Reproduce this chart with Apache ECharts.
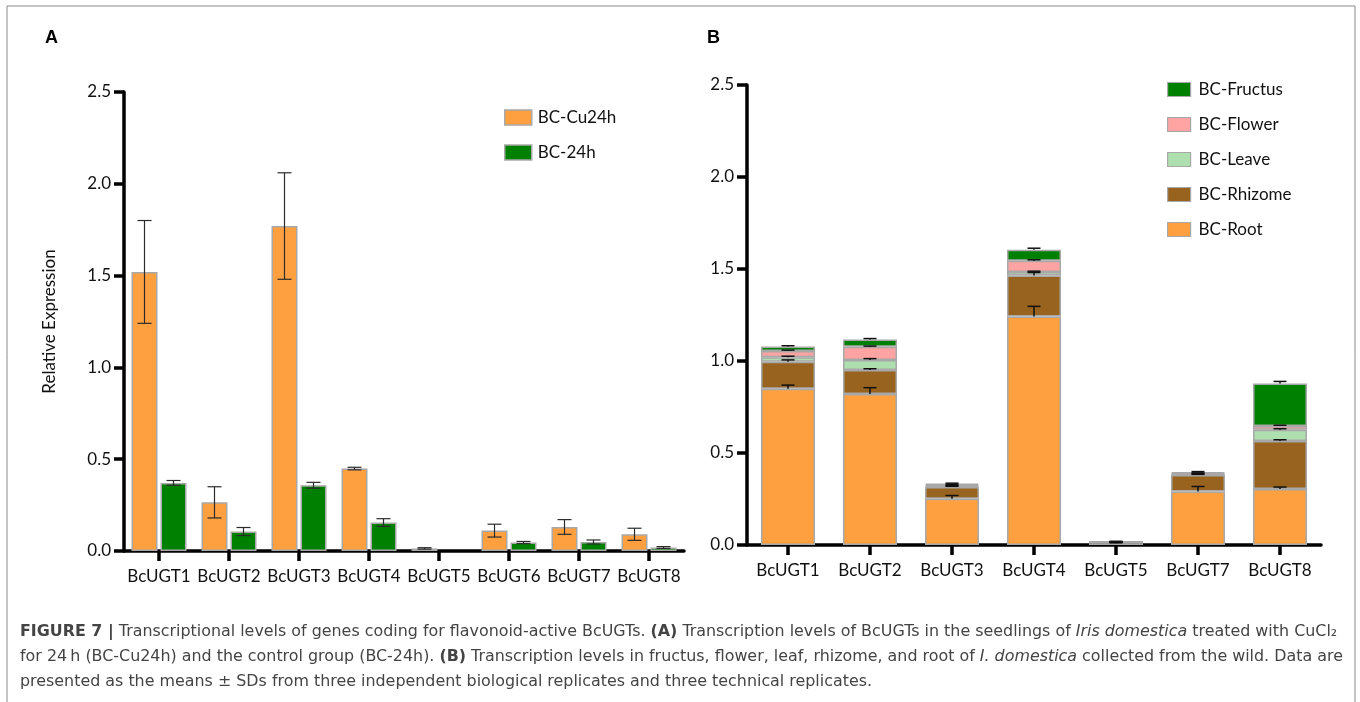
<!DOCTYPE html>
<html>
<head>
<meta charset="utf-8">
<title>Figure 7 – BcUGT transcription levels</title>
<script src="https://cdn.jsdelivr.net/npm/echarts@6/dist/echarts.min.js"></script>
<style>
  html, body { margin: 0; padding: 0; background: #ffffff; }
  #chart { width: 1360px; height: 702px; }
</style>
</head>
<body>
<div id="chart"></div>
<script>
// ---------- Panel A: CuCl2-treated seedlings vs control ----------
const genesA = ['BcUGT1', 'BcUGT2', 'BcUGT3', 'BcUGT4', 'BcUGT5', 'BcUGT6', 'BcUGT7', 'BcUGT8'];
const cu24h = [1.52, 0.265, 1.77, 0.449, 0.014, 0.111, 0.131, 0.091];
const cu24hSd = [0.28, 0.085, 0.29, 0.007, 0.004, 0.035, 0.04, 0.033];
const ck24h = [0.371, 0.106, 0.358, 0.155, 0.0, 0.046, 0.049, 0.019];
const ck24hSd = [0.013, 0.022, 0.016, 0.021, 0.0, 0.006, 0.011, 0.005];

// ---------- Panel B: tissues of wild plants (stacked) ----------
const genesB = ['BcUGT1', 'BcUGT2', 'BcUGT3', 'BcUGT4', 'BcUGT5', 'BcUGT7', 'BcUGT8'];
const root = [0.849, 0.82, 0.251, 1.242, 0.01, 0.291, 0.305];
const rootSd = [0.02, 0.035, 0.018, 0.055, 0.002, 0.027, 0.01];
const rhizome = [0.147, 0.131, 0.064, 0.223, 0.004, 0.089, 0.26];
const rhizomeSd = [0.01, 0.007, 0.004, 0.016, 0.001, 0.004, 0.007];
const leave = [0.025, 0.055, 0.006, 0.019, 0.002, 0.005, 0.062];
const leaveSd = [0.005, 0.007, 0.002, 0.004, 0.001, 0.002, 0.005];
const flower = [0.034, 0.071, 0.005, 0.061, 0.001, 0.005, 0.02];
const flowerSd = [0.004, 0.004, 0.002, 0.005, 0.001, 0.002, 0.004];
const fructus = [0.024, 0.04, 0.007, 0.059, 0.002, 0.006, 0.231];
const fructusSd = [0.004, 0.005, 0.003, 0.009, 0.001, 0.003, 0.011];

const yTicks = [0, 0.5, 1.0, 1.5, 2.0, 2.5];

const COLORS = {
  orange: '#FFA040',
  green: '#008000',
  brown: '#97631F',
  leaf: '#AEDFAE',
  pink: '#FFA3A3'
};
const BORDER = '#A8A8A8';
const AXIS = '#000000';
const LABEL_FONT = 'Lato, "Open Sans", sans-serif';

const chart = echarts.init(document.getElementById('chart'), null, { renderer: 'canvas' });

// Layout of the grouped bars in panel A
const BAR_W_A = 26;
const BAR_GAP_A = 3;

// A zero mean leaves no visible bar
const asBar = arr => arr.map(v => (v > 0 ? v : '-'));

function axisCommon() {
  return {
    axisLine: { show: true, lineStyle: { color: AXIS, width: 3.5 } },
    axisTick: { show: true, inside: false, length: 10, lineStyle: { color: AXIS, width: 3.5 } },
    splitLine: { show: false }
  };
}

function valueAxis(gridIndex, name) {
  return Object.assign(axisCommon(), {
    type: 'value',
    gridIndex: gridIndex,
    min: yTicks[0],
    max: yTicks[yTicks.length - 1],
    interval: 0.5,
    name: name || '',
    nameLocation: 'middle',
    nameGap: 66,
    nameRotate: 90,
    nameTextStyle: { fontFamily: LABEL_FONT, fontSize: 17, color: '#111' },
    axisLabel: {
      margin: 13,
      fontFamily: LABEL_FONT,
      fontSize: 17,
      color: '#111',
      formatter: v => v.toFixed(1)
    }
  });
}

function categoryAxis(gridIndex, cats) {
  const ax = Object.assign(axisCommon(), {
    type: 'category',
    gridIndex: gridIndex,
    data: cats,
    boundaryGap: true,
    axisLabel: {
      margin: 17,
      interval: 0,
      fontFamily: LABEL_FONT,
      fontSize: 17,
      color: '#111'
    }
  });
  ax.axisTick.alignWithLabel = true;
  ax.axisTick.interval = 0;
  return ax;
}

// Two-sided error bars for grouped bars (panel A)
function groupedErrorSeries(name, values, sds, offsetSign) {
  return {
    type: 'custom',
    name: name + ' SD',
    xAxisIndex: 0,
    yAxisIndex: 0,
    silent: true,
    z: 10,
    clip: false,
    data: values.map((v, i) => [i, v, sds[i]]),
    renderItem: function (params, api) {
      const i = api.value(0);
      const v = api.value(1);
      const sd = api.value(2);
      if (!(sd > 0)) return null;
      const dx = offsetSign * (BAR_W_A + BAR_GAP_A) / 2;
      const hi = api.coord([i, v + sd]);
      const lo = api.coord([i, v - sd]);
      const x = hi[0] + dx;
      const cap = 7;
      const st = { stroke: '#2b2b2b', lineWidth: 1.2 };
      return {
        type: 'group',
        children: [
          { type: 'line', shape: { x1: x, y1: hi[1], x2: x, y2: lo[1] }, style: st },
          { type: 'line', shape: { x1: x - cap, y1: hi[1], x2: x + cap, y2: hi[1] }, style: st },
          { type: 'line', shape: { x1: x - cap, y1: lo[1], x2: x + cap, y2: lo[1] }, style: st }
        ]
      };
    }
  };
}

// Upward error bars at the top of each stacked segment (panel B)
function stackedErrorSeries(name, tops, sds) {
  return {
    type: 'custom',
    name: name + ' SD',
    xAxisIndex: 1,
    yAxisIndex: 1,
    silent: true,
    z: 10,
    clip: false,
    data: tops.map((t, i) => [i, t, sds[i]]),
    renderItem: function (params, api) {
      const i = api.value(0);
      const t = api.value(1);
      const sd = api.value(2);
      const base = api.coord([i, t]);
      const hi = api.coord([i, t + sd]);
      const x = base[0];
      const cap = 6.5;
      const st = { stroke: '#111', lineWidth: 1.5 };
      return {
        type: 'group',
        children: [
          { type: 'line', shape: { x1: x, y1: base[1], x2: x, y2: hi[1] }, style: st },
          { type: 'line', shape: { x1: x - cap, y1: hi[1], x2: x + cap, y2: hi[1] }, style: st }
        ]
      };
    }
  };
}

// Cumulative tops of the stacked segments
function cumulative(layers) {
  const out = [];
  let acc = genesB.map(() => 0);
  layers.forEach(layer => {
    acc = acc.map((a, i) => a + layer[i]);
    out.push(acc.slice());
  });
  return out;
}
const stackLayers = [root, rhizome, leave, flower, fructus];
const stackSds = [rootSd, rhizomeSd, leaveSd, flowerSd, fructusSd];
const stackNames = ['BC-Root', 'BC-Rhizome', 'BC-Leave', 'BC-Flower', 'BC-Fructus'];
const stackColors = [COLORS.orange, COLORS.brown, COLORS.leaf, COLORS.pink, COLORS.green];
const stackTops = cumulative(stackLayers);

const stackedBars = stackLayers.map((layer, k) => ({
  type: 'bar',
  name: stackNames[k],
  xAxisIndex: 1,
  yAxisIndex: 1,
  stack: 'tissue',
  barWidth: 54,
  data: layer,
  itemStyle: { color: stackColors[k], borderColor: BORDER, borderWidth: 1.5 },
  emphasis: { disabled: true }
}));
const stackedErrors = stackLayers.map((layer, k) =>
  stackedErrorSeries(stackNames[k], stackTops[k], stackSds[k]));

const captionColor = '#444444';
const captionFont = '"DejaVu Sans", "Liberation Sans", sans-serif';
const captionSize = 15.9;
const captionRich = {
  b: { fontWeight: 'bold', fontFamily: captionFont, fontSize: captionSize, color: '#222' },
  i: { fontStyle: 'italic', fontFamily: captionFont, fontSize: captionSize, color: captionColor }
};
function captionLine(text, y) {
  return {
    type: 'text',
    left: 20,
    top: y,
    silent: true,
    style: {
      text: text,
      fontFamily: captionFont,
      fontSize: captionSize,
      fill: captionColor,
      rich: captionRich
    }
  };
}

const option = {
  backgroundColor: '#ffffff',
  animation: false,
  grid: [
    { left: 124, right: 676, top: 92, bottom: 151 },
    { left: 747, right: 39, top: 85, bottom: 157 }
  ],
  xAxis: [categoryAxis(0, genesA), categoryAxis(1, genesB)],
  yAxis: [valueAxis(0, 'Relative Expression'), valueAxis(1)],
  legend: [
    {
      data: ['BC-Cu24h', 'BC-24h'],
      orient: 'vertical',
      left: 499,
      top: 104,
      itemWidth: 27,
      itemHeight: 15,
      itemGap: 18,
      icon: 'rect',
      selectedMode: false,
      itemStyle: { borderColor: BORDER, borderWidth: 1.5 },
      textStyle: { fontFamily: LABEL_FONT, fontSize: 17, color: '#111', padding: [0, 0, 0, 1] }
    },
    {
      data: ['BC-Fructus', 'BC-Flower', 'BC-Leave', 'BC-Rhizome', 'BC-Root'],
      orient: 'vertical',
      left: 1162,
      top: 76,
      itemWidth: 23,
      itemHeight: 14,
      itemGap: 18,
      icon: 'rect',
      selectedMode: false,
      itemStyle: { borderColor: BORDER, borderWidth: 1.2 },
      textStyle: { fontFamily: LABEL_FONT, fontSize: 17, color: '#111', padding: [0, 0, 0, 3] }
    }
  ],
  series: [
    {
      type: 'bar',
      name: 'BC-Cu24h',
      xAxisIndex: 0,
      yAxisIndex: 0,
      barWidth: BAR_W_A,
      barGap: (BAR_GAP_A / BAR_W_A * 100).toFixed(1) + '%',
      data: asBar(cu24h),
      itemStyle: { color: COLORS.orange, borderColor: BORDER, borderWidth: 1.5 },
      emphasis: { disabled: true }
    },
    {
      type: 'bar',
      name: 'BC-24h',
      xAxisIndex: 0,
      yAxisIndex: 0,
      barWidth: BAR_W_A,
      barGap: (BAR_GAP_A / BAR_W_A * 100).toFixed(1) + '%',
      data: asBar(ck24h),
      itemStyle: { color: COLORS.green, borderColor: BORDER, borderWidth: 1.5 },
      emphasis: { disabled: true }
    },
    groupedErrorSeries('BC-Cu24h', cu24h, cu24hSd, -1),
    groupedErrorSeries('BC-24h', ck24h, ck24hSd, 1)
  ].concat(stackedBars, stackedErrors),
  graphic: [
    {
      type: 'rect',
      silent: true,
      shape: { x: 7, y: 6, width: 1348, height: 720 },
      style: { fill: 'none', stroke: '#8a8a8a', lineWidth: 1 }
    },
    {
      type: 'text', left: 45, top: 29, silent: true,
      style: { text: 'A', fontFamily: '"Liberation Sans", Arial, sans-serif', fontWeight: 'bold', fontSize: 18, fill: '#000' }
    },
    {
      type: 'text', left: 707, top: 29, silent: true,
      style: { text: 'B', fontFamily: '"Liberation Sans", Arial, sans-serif', fontWeight: 'bold', fontSize: 18, fill: '#000' }
    },
    captionLine('{b|FIGURE 7 |} Transcriptional levels of genes coding for flavonoid-active BcUGTs. {b|(A)} Transcription levels of BcUGTs in the seedlings of {i|Iris domestica} treated with CuCl₂', 624),
    captionLine('for 24\u2009h (BC-Cu24h) and the control group (BC-24h). {b|(B)} Transcription levels in fructus, flower, leaf, rhizome, and root of {i|I. domestica} collected from the wild. Data are', 649),
    captionLine('presented as the means \u00B1 SDs from three independent biological replicates and three technical replicates.', 674)
  ]
};

chart.setOption(option);
</script>
</body>
</html>
